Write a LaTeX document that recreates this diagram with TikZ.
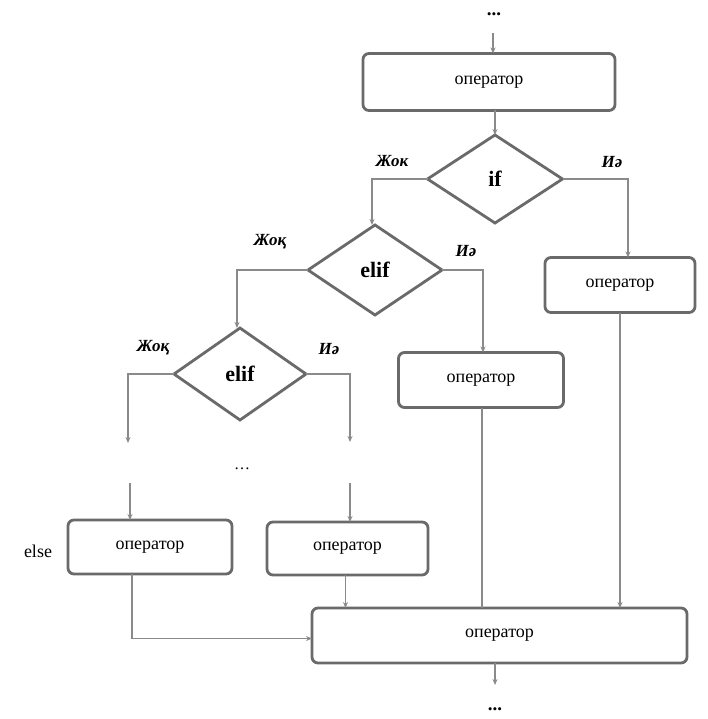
\documentclass[tikz,border=0pt]{standalone}
\usepackage{fontspec}
\setmainfont{Liberation Serif}
\usetikzlibrary{shapes.geometric,arrows.meta}
\definecolor{lncol}{HTML}{8A8A8A}
\definecolor{bxcol}{HTML}{6A6A6A}
\begin{document}
\begin{tikzpicture}[x=1pt,y=-1pt,
  opbox/.style={draw=bxcol,line width=2.8pt,rounded corners=6pt,inner sep=0pt,outer sep=0pt,font=\fontsize{18}{20}\selectfont},
  decis/.style={draw=bxcol,line width=2.8pt,diamond,inner sep=0pt,outer sep=0pt,font=\bfseries\fontsize{22}{24}\selectfont},
  conn/.style={draw=lncol,line width=1.9pt},
  arr/.style={conn,-{Stealth[length=6pt,width=5pt]}},
  lbl/.style={font=\bfseries\itshape\fontsize{17}{19}\selectfont,inner sep=0pt},
  dots/.style={font=\bfseries\fontsize{19}{20}\selectfont,inner sep=0pt}]
\useasboundingbox[fill=white] (0,0) rectangle (707,719);

% nodes
\node[dots] (dotsT) at (494,14) {...};
\node[opbox,minimum width=252pt,minimum height=57pt] (opTop) at (489,82) {оператор};
\node[decis,aspect=1.53,minimum width=135pt,minimum height=88pt] (if) at (495,179) {if};
\node[decis,aspect=1.49,minimum width=134pt,minimum height=90pt] (elif1) at (375,270) {elif};
\node[decis,aspect=1.43,minimum width=132pt,minimum height=92pt] (elif2) at (240,374) {elif};
\node[opbox,minimum width=150pt,minimum height=55pt] (opR) at (620,285) {оператор};
\node[opbox,minimum width=165pt,minimum height=55pt] (opM) at (481,380) {оператор};
\node[opbox,minimum width=164pt,minimum height=54pt] (opL) at (150,547) {оператор};
\node[opbox,minimum width=161pt,minimum height=53pt] (opML) at (347.5,548.5) {оператор};
\node[opbox,minimum width=375pt,minimum height=55pt] (opF) at (499.5,635.5) {оператор};
\node[dots] (dotsB) at (495,709) {...};
\node[font=\fontsize{16}{18}\selectfont,inner sep=0pt] (dotsM) at (242,469) {\dots};
\node[font=\fontsize{18}{20}\selectfont,inner sep=0pt] (else) at (38,551) {else};

% labels
\node[lbl] (l1) at (392,161) {Жок};
\node[lbl] (l2) at (612,162) {Иә};
\node[lbl] (l3) at (270,242) {Жоқ};
\node[lbl] (l4) at (466,251) {Иә};
\node[lbl] (l5) at (153,348) {Жоқ};
\node[lbl] (l6) at (329,349) {Иә};

% free ends
\coordinate (eL) at (128,443);
\coordinate (eR) at (350,442);
\coordinate (sL) at (130,483);
\coordinate (sR) at (350,483);
\coordinate (tT) at (493,33);
\coordinate (tB) at (495,685);

% connectors
\draw[arr] (tT) -- (tT |- opTop.north);
\draw[arr] (opTop.south -| if.north) -- (if.north);
\draw[arr] (if.west) -| ([xshift=-3pt]elif1.north);
\draw[arr] (if.east) -| ([xshift=8pt]opR.north);
\draw[arr] (elif1.west) -| ([xshift=-3pt]elif2.north);
\draw[arr] (elif1.east) -| ([xshift=2pt]opM.north);
\draw[arr] (elif2.west) -| (eL);
\draw[arr] (elif2.east) -| (eR);
\draw[arr] (sL) -- (sL |- opL.north);
\draw[arr] (sR) -- (sR |- opML.north);
\draw[arr] ([xshift=-18pt]opL.south) |- ([yshift=-3pt]opF.west);
\draw[arr] ([xshift=-2pt]opML.south) -- ([xshift=-2pt]opML.south |- opF.north);
\draw[conn] ([xshift=1pt]opM.south) -- ([xshift=1pt]opM.south |- opF.north);
\draw[arr] (opR.south) -- (opR.south |- opF.north);
\draw[arr] (opF.south -| tB) -- (tB);
\end{tikzpicture}
\end{document}
